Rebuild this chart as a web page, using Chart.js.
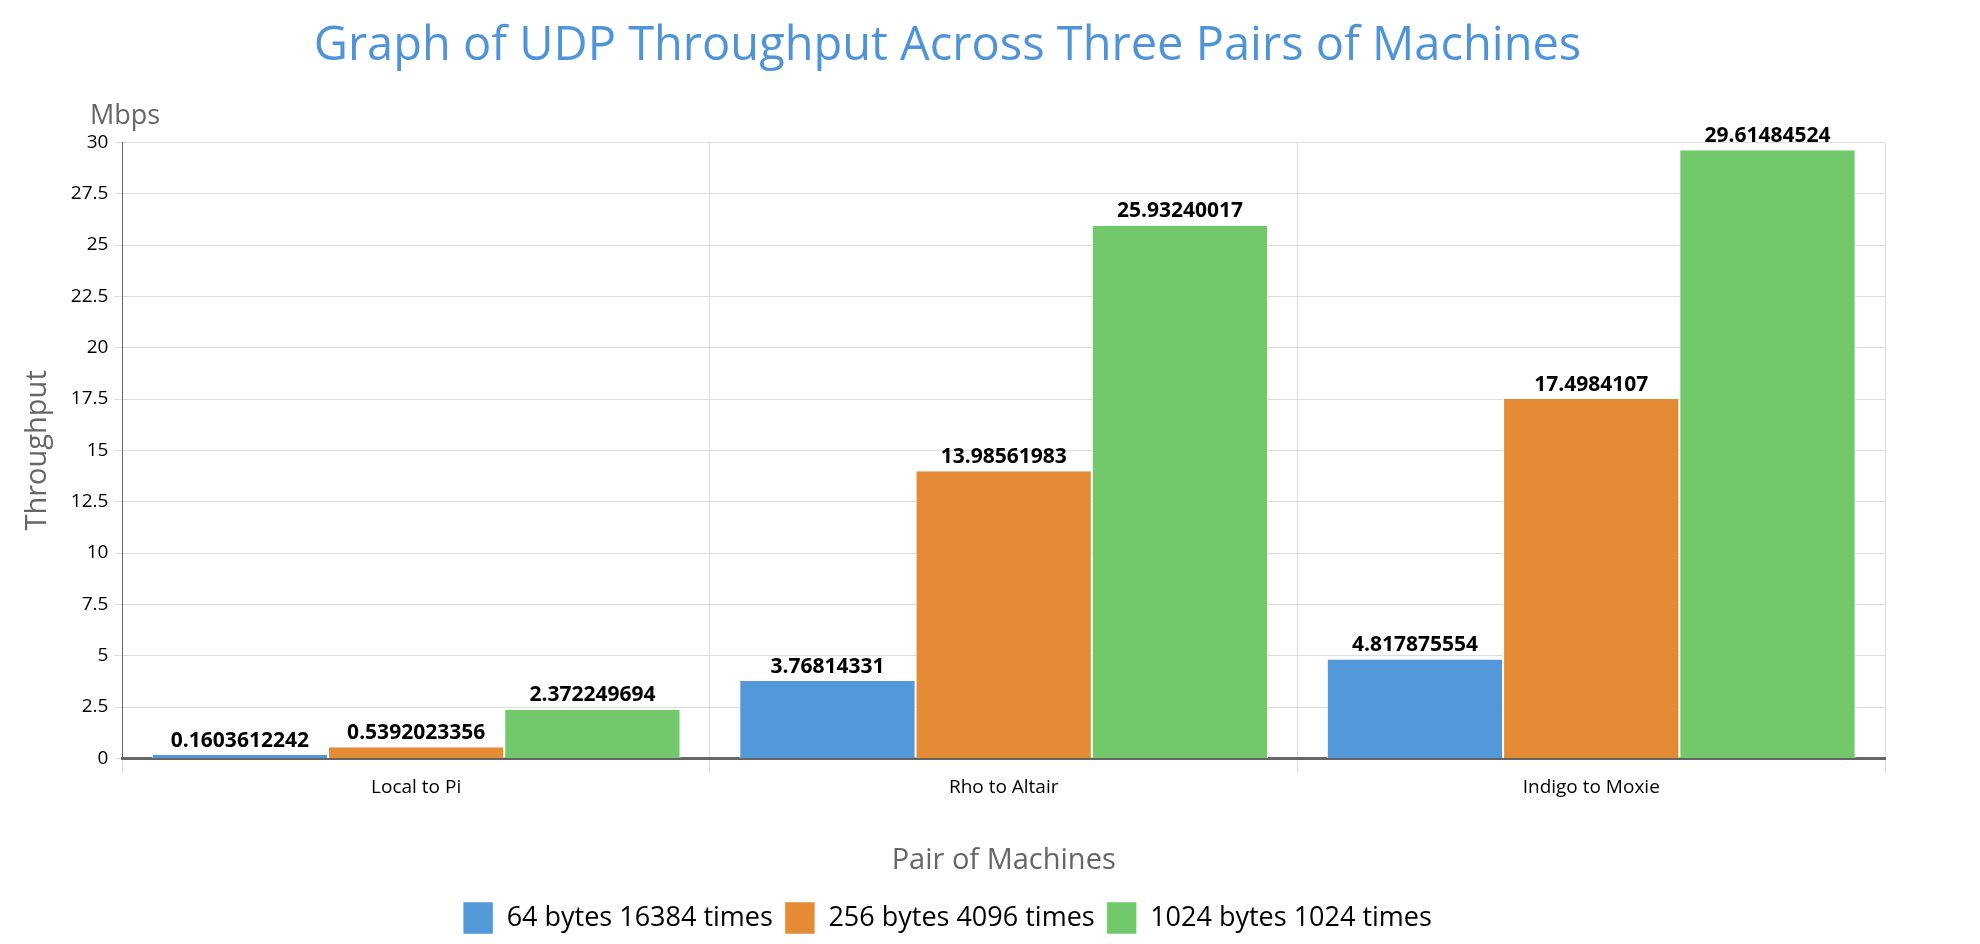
<!DOCTYPE html>
<html>
<head>
<meta charset="utf-8">
<script src="https://cdn.jsdelivr.net/npm/chart.js@4"></script>
<style>
  html, body { margin: 0; padding: 0; background: #fff; }
  #wrap { width: 1980px; height: 944px; }
</style>
</head>
<body>
<div id="wrap"><canvas id="barChart"></canvas></div>
<script>
const categories = ['Local to Pi', 'Rho to Altair', 'Indigo to Moxie'];
const series64 = [0.1603612242, 3.76814331, 4.817875554];
const series256 = [0.5392023356, 13.98561983, 17.4984107];
const series1024 = [2.372249694, 25.93240017, 29.61484524];
const yTicks = [0, 2.5, 5, 7.5, 10, 12.5, 15, 17.5, 20, 22.5, 25, 27.5, 30];

// value labels above each bar + "Mbps" unit text
const barLabels = {
  id: 'barLabels',
  afterDatasetsDraw(chart) {
    const ctx = chart.ctx;
    ctx.save();
    ctx.font = 'bold 21px "Open Sans"';
    ctx.fillStyle = '#000';
    ctx.textAlign = 'center';
    ctx.textBaseline = 'bottom';
    chart.data.datasets.forEach((ds, i) => {
      chart.getDatasetMeta(i).data.forEach((bar, j) => {
        ctx.fillText(String(ds.data[j]), bar.x, bar.y - 4);
      });
    });
    ctx.font = '27px "Open Sans"';
    ctx.fillStyle = '#666';
    ctx.textAlign = 'left';
    ctx.fillText('Mbps', 90, 130);
    ctx.restore();
  }
};

new Chart(document.getElementById('barChart').getContext('2d'), {
  type: 'bar',
  data: {
    labels: categories,
    datasets: [
      { label: '64 bytes 16384 times', data: series64, backgroundColor: '#5398d9' },
      { label: '256 bytes 4096 times', data: series256, backgroundColor: '#e58b35' },
      { label: '1024 bytes 1024 times', data: series1024, backgroundColor: '#72c96c' }
    ]
  },
  options: {
    responsive: true,
    maintainAspectRatio: false,
    animation: false,
    categoryPercentage: 0.9,
    barPercentage: 1,
    borderColor: '#fff',
    borderWidth: { left: 1, right: 1 },
    layout: { padding: { left: 10, right: 95, top: 0, bottom: 0 } },
    plugins: {
      title: {
        display: true,
        text: 'Graph of UDP Throughput Across Three Pairs of Machines',
        color: '#4f94d8',
        font: { family: 'Open Sans', size: 47, weight: 'normal' },
        padding: { top: 18, bottom: 68 }
      },
      legend: {
        position: 'bottom',
        labels: {
          color: '#000',
          font: { family: 'Open Sans', size: 27 },
          boxWidth: 30, boxHeight: 32, padding: 12
        }
      },
      tooltip: { enabled: false }
    },
    scales: {
      x: {
        grid: { offset: true, color: '#ddd', drawTicks: true, tickLength: 14 },
        border: { color: '#666', width: 3 },
        ticks: { color: '#000', font: { family: 'Open Sans', size: 19 }, padding: 4 },
        title: {
          display: true, text: 'Pair of Machines', color: '#666',
          font: { family: 'Open Sans', size: 29 }, padding: { top: 40, bottom: 12 }
        }
      },
      y: {
        min: 0, max: 30,
        afterBuildTicks(axis) { axis.ticks = yTicks.map(v => ({ value: v })); },
        grid: { color: '#ddd', tickLength: 8 },
        border: { color: '#666', width: 1 },
        ticks: { color: '#000', font: { family: 'Open Sans', size: 19 }, padding: 6 },
        title: {
          display: true, text: 'Throughput', color: '#666',
          font: { family: 'Open Sans', size: 29 }, padding: 10
        }
      }
    }
  },
  plugins: [barLabels]
});
</script>
</body>
</html>
